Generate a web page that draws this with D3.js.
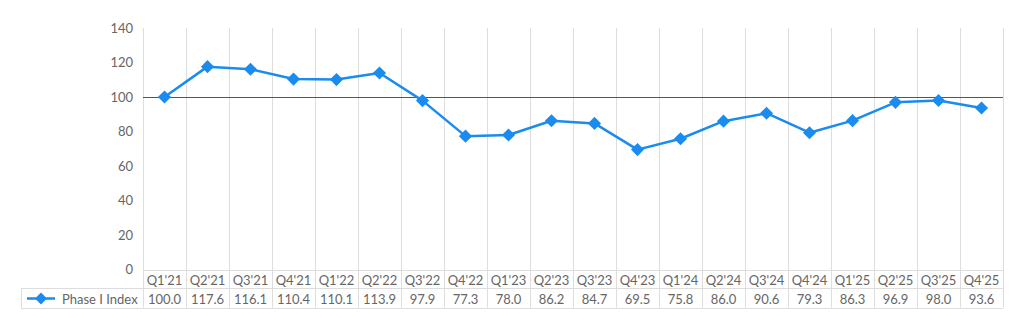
<!DOCTYPE html>
<meta charset="utf-8">
<style>
body { margin: 0; background: #fff; }
text { font-family: Lato, sans-serif; }
.axis text { fill: #666; font-size: 13px; }
.grid line { stroke: #ddd; stroke-width: 1px; }
.tbl text { fill: #666; font-size: 13px; }
</style>
<svg width="1024" height="329"></svg>
<script src="https://d3js.org/d3.v7.min.js"></script>
<script>

var quarters = ["Q1'21","Q2'21","Q3'21","Q4'21","Q1'22","Q2'22","Q3'22","Q4'22","Q1'23","Q2'23",
                "Q3'23","Q4'23","Q1'24","Q2'24","Q3'24","Q4'24","Q1'25","Q2'25","Q3'25","Q4'25"];
var phaseIndex = [100.0,117.6,116.1,110.4,110.1,113.9,97.9,77.3,78.0,86.2,
                  84.7,69.5,75.8,86.0,90.6,79.3,86.3,96.9,98.0,93.6];
var yTicks = [0,20,40,60,80,100,120,140];
var seriesName = "Phase I Index";
var baseline = 100;

var svg = d3.select("svg"),
    plotLeft = 143, plotRight = 1003, plotTop = 28, plotBottom = 269.5,
    rowH = 19, legendLeft = 21;

var blue = "#1a8cf0";

var x = d3.scaleBand().domain(quarters).range([plotLeft, plotRight]);
var y = d3.scaleLinear().domain([0, 140]).range([plotBottom, plotTop]);

// vertical grid lines (category boundaries)
var bounds = quarters.map(function(q) { return x(q); }).concat([plotRight]);
svg.append("g").attr("class", "grid")
  .selectAll("line").data(bounds).enter().append("line")
    .attr("x1", function(d) { return Math.round(d) + 0.5; })
    .attr("x2", function(d) { return Math.round(d) + 0.5; })
    .attr("y1", plotTop).attr("y2", plotBottom + 2 * rowH);

// y axis labels
svg.append("g").attr("class", "axis")
  .selectAll("text").data(yTicks).enter().append("text")
    .attr("x", 133).attr("y", function(d) { return y(d); })
    .attr("dy", "0.35em")
    .attr("text-anchor", "end")
    .text(function(d) { return d; });

// baseline at 100
svg.append("line")
  .attr("x1", plotLeft).attr("x2", plotRight)
  .attr("y1", Math.round(y(baseline)) + 0.5).attr("y2", Math.round(y(baseline)) + 0.5)
  .attr("stroke", "#555").attr("stroke-width", 1.2);

// table
var tbl = svg.append("g").attr("class", "tbl");
var r0 = Math.round(plotBottom) + 0.5, r1 = r0 + rowH - 1, r2 = r1 + rowH + 1;
[r0, r1, r2].forEach(function(yy, i) {
  tbl.append("line")
    .attr("x1", i === 0 ? plotLeft : legendLeft).attr("x2", plotRight)
    .attr("y1", yy).attr("y2", yy)
    .attr("stroke", "#ddd");
});
tbl.append("line").attr("x1", legendLeft + 0.5).attr("x2", legendLeft + 0.5)
  .attr("y1", r1).attr("y2", r2).attr("stroke", "#ddd");

tbl.selectAll("text.cat").data(quarters).enter().append("text")
    .attr("class", "cat")
    .attr("x", function(d) { return x(d) + x.bandwidth() / 2; })
    .attr("y", (r0 + r1) / 2 + 1).attr("dy", "0.35em")
    .attr("text-anchor", "middle")
    .text(function(d) { return d; });

tbl.selectAll("text.val").data(phaseIndex).enter().append("text")
    .attr("class", "val")
    .attr("x", function(d, i) { return x(quarters[i]) + x.bandwidth() / 2; })
    .attr("y", (r1 + r2) / 2 + 1).attr("dy", "0.35em")
    .attr("text-anchor", "middle")
    .text(function(d) { return d.toFixed(1); });

// legend key
var ly = (r1 + r2) / 2;
tbl.append("line").attr("x1", 27).attr("x2", 55).attr("y1", ly).attr("y2", ly)
  .attr("stroke", blue).attr("stroke-width", 2.5);
tbl.append("path").attr("d", d3.symbol(d3.symbolDiamond2, 90)())
  .attr("transform", "translate(41," + ly + ")").attr("fill", blue);
tbl.append("text").attr("x", 62).attr("y", ly + 1).attr("dy", "0.35em")
  .text(seriesName);

// series line
var line = d3.line()
  .x(function(d, i) { return x(quarters[i]) + x.bandwidth() / 2; })
  .y(function(d) { return y(d); });

svg.append("path").datum(phaseIndex)
  .attr("fill", "none").attr("stroke", blue).attr("stroke-width", 2.5)
  .attr("stroke-linejoin", "round")
  .attr("d", line);

svg.append("g").selectAll("path").data(phaseIndex).enter().append("path")
  .attr("d", d3.symbol(d3.symbolDiamond2, 110)())
  .attr("transform", function(d, i) {
    return "translate(" + (x(quarters[i]) + x.bandwidth() / 2) + "," + y(d) + ")";
  })
  .attr("fill", blue);

</script>
